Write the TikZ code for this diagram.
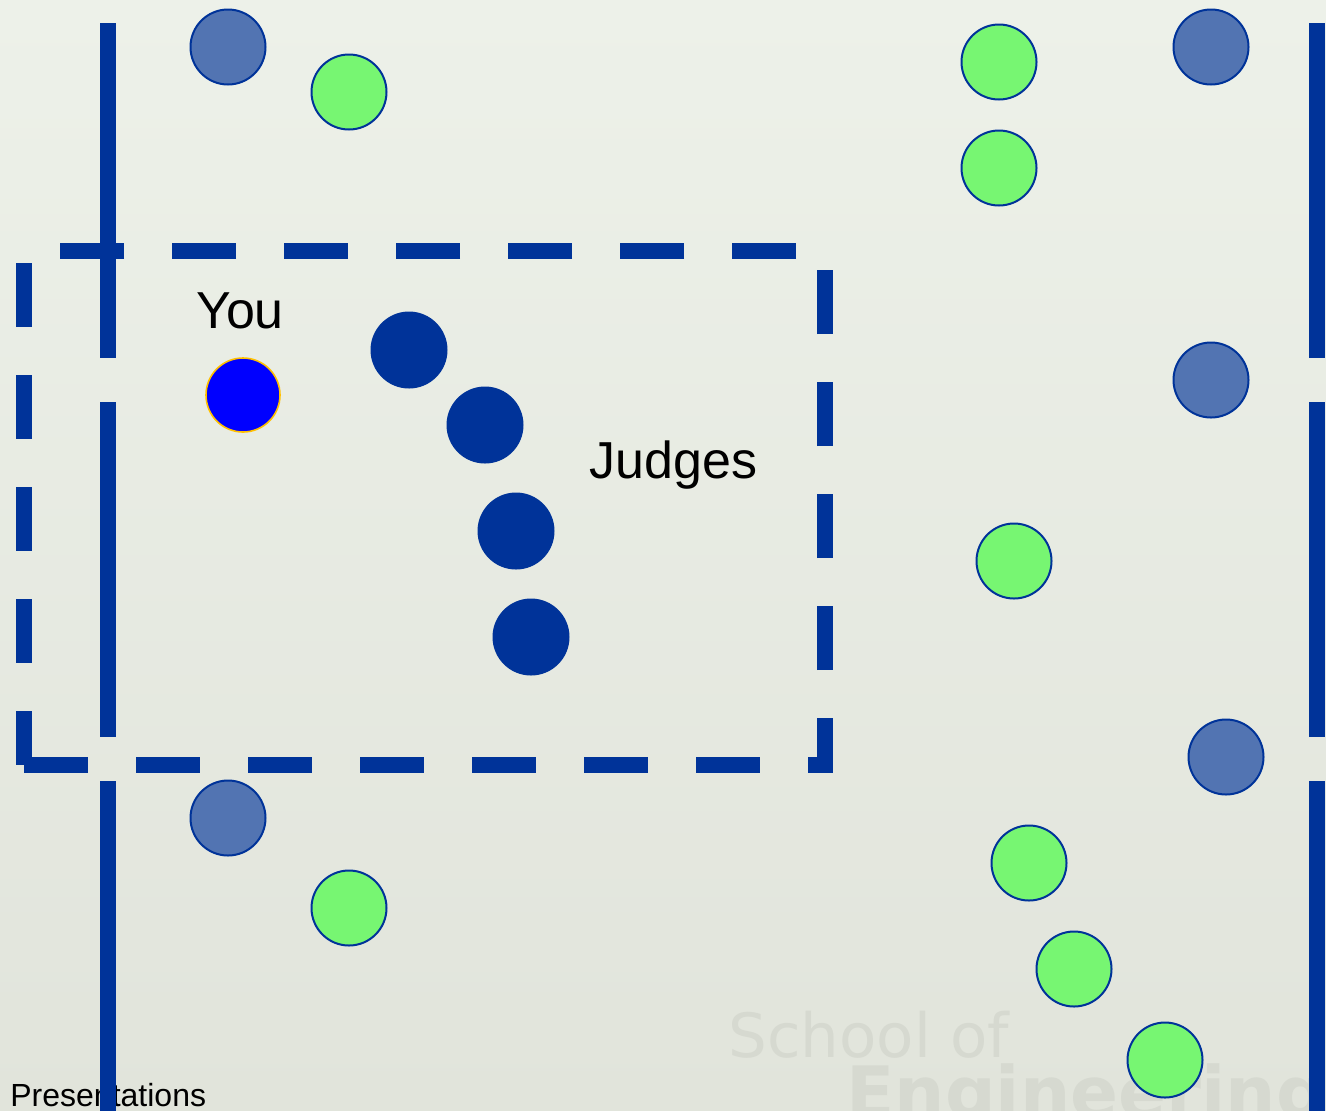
\documentclass[tikz,border=0pt]{standalone}
\usepackage{fontspec}
\setmainfont{Liberation Sans}
\newfontfamily\markfont{DejaVu Sans}
\definecolor{lineblue}{RGB}{0,51,153}
\definecolor{ballsteel}{RGB}{82,116,178}
\definecolor{ballgreen}{RGB}{119,246,114}
\definecolor{youring}{RGB}{255,192,0}
\definecolor{bgtop}{RGB}{237,241,233}
\definecolor{bgbottom}{RGB}{225,228,219}
\definecolor{markgray}{RGB}{214,217,208}

\begin{document}
\begin{tikzpicture}[x=0.5pt,y=-0.5pt,
  ball/.style={circle,minimum size=37.5pt,inner sep=0pt,line width=1pt},
  steelball/.style={ball,fill=ballsteel,draw=lineblue},
  greenball/.style={ball,fill=ballgreen,draw=lineblue},
  judgeball/.style={ball,fill=lineblue,minimum size=38.5pt},
  youball/.style={ball,fill=blue,draw=youring,minimum size=37pt,line width=0.8pt},
  wall/.style={lineblue,line width=8pt,dash pattern=on 167.5pt off 22pt},
  zone/.style={lineblue,line width=8pt,dash pattern=on 32pt off 24pt},
  word/.style={inner sep=0pt,anchor=base,font=\fontsize{26}{30}\selectfont}]
  \useasboundingbox (0,0) rectangle (1326,1110);
  \clip (0,0) rectangle (1326,1110);
  \shade[top color=bgtop,bottom color=bgbottom] (0,0) rectangle (1326,1110);
  % faint school mark
  \node[markgray,inner sep=0pt,anchor=base west,font=\markfont\fontsize{30.5}{32}\selectfont]
       (mark1) at (728,1057) {School of};
  \node[markgray,inner sep=0pt,anchor=base west,font=\markfont\bfseries\fontsize{35.4}{38}\selectfont]
       (mark2) at (846,1117) {Engineering};
  \node[inner sep=0pt,anchor=base west,font=\fontsize{16}{18}\selectfont]
       (foot) at (10,1106) {Presentations};
  % side lines and the judging zone
  \draw[wall] (107.5,23) -- (107.5,1130);
  \draw[wall] (1316.5,23) -- (1316.5,1130);
  \draw[zone] (24,765) -- (825,765) -- (825,251) -- (24,251) -- (24,765);
  % people
  \node[steelball] (s1) at (228,47){};
  \node[greenball] (g1) at (349,92){};
  \node[greenball] (g2) at (999,62){};
  \node[greenball] (g3) at (999,168){};
  \node[steelball] (s2) at (1211,47){};
  \node[steelball] (s3) at (1211,380){};
  \node[greenball] (g4) at (1014,561){};
  \node[steelball] (s4) at (1226,757){};
  \node[greenball] (g5) at (1029,863){};
  \node[greenball] (g6) at (1074,969){};
  \node[greenball] (g7) at (1165,1060){};
  \node[steelball] (s5) at (228,818){};
  \node[greenball] (g8) at (349,908){};
  \node[judgeball] (j1) at (409,350){};
  \node[judgeball] (j2) at (485,425){};
  \node[judgeball] (j3) at (516,531){};
  \node[judgeball] (j4) at (531,637){};
  \node[youball] (you) at (243,395){};
  \node[word] (youtext) at (240,328) {You};
  \node[word] (judgetext) at (673.5,478) {Judges};
\end{tikzpicture}
\end{document}
